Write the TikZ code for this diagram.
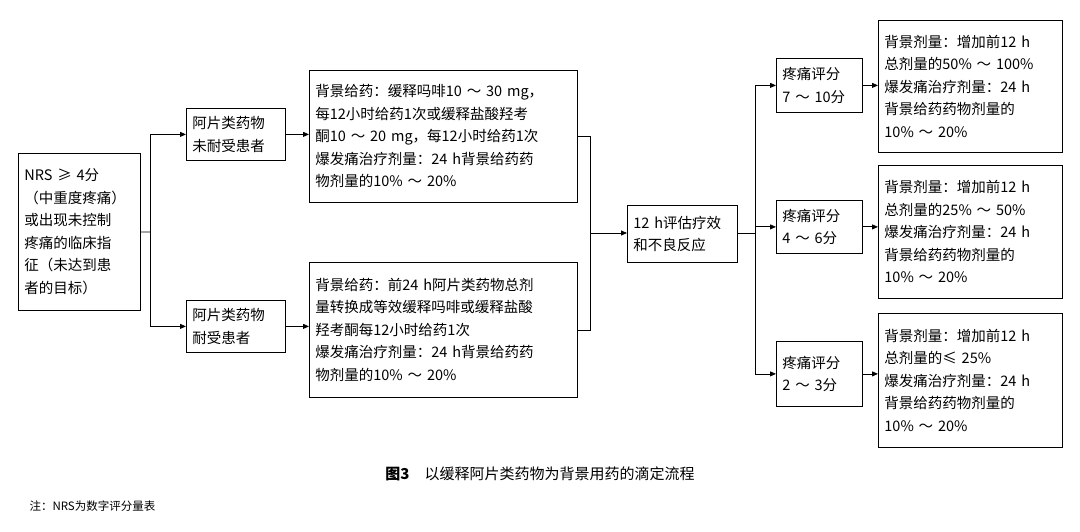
\documentclass[tikz,border=0pt]{standalone}
\usepackage{fontspec}
\setmainfont{Noto Sans CJK SC}
\usetikzlibrary{arrows.meta}
\begin{document}
\begin{tikzpicture}[x=1pt,y=-1pt,
  bx/.style={draw,line width=0.8pt,align=left,anchor=north west,inner xsep=6pt,inner ysep=3pt,font=\fontsize{14.5}{22.5}\selectfont},
  w/.style={text width=#1-12pt,minimum width=#1},
  ln/.style={line width=0.8pt},
  ar/.style={line width=0.8pt,-{Triangle[length=6pt,width=5pt]}}]
\useasboundingbox (0,0) rectangle (1080,532);
\node[bx,w=122pt,minimum height=157] (nrs) at (18,153) {NRS ≥ 4分\\（中重度疼痛）\\或出现未控制\\疼痛的临床指\\征（未达到患\\者的目标）};
\node[bx,w=99pt,minimum height=52] (a1) at (186,108) {阿片类药物\\未耐受患者};
\node[bx,w=99pt,minimum height=52] (a2) at (186,300) {阿片类药物\\耐受患者};
\node[bx,w=268pt,minimum height=132] (b1) at (309,70) {背景给药：缓释吗啡10 ～ 30 mg，\\每12小时给药1次或缓释盐酸羟考\\酮10 ～ 20 mg，每12小时给药1次\\爆发痛治疗剂量：24 h背景给药药\\物剂量的10\% ～ 20\%};
\node[bx,w=268pt,minimum height=135] (b2) at (309,262) {背景给药：前24 h阿片类药物总剂\\量转换成等效缓释吗啡或缓释盐酸\\羟考酮每12小时给药1次\\爆发痛治疗剂量：24 h背景给药药\\物剂量的10\% ～ 20\%};
\node[bx,w=110pt,minimum height=57] (e) at (627,205) {12 h评估疗效\\和不良反应};
\node[bx,w=86pt,minimum height=54] (p1) at (776,58) {疼痛评分\\7 ～ 10分};
\node[bx,w=86pt,minimum height=53] (p2) at (776,200) {疼痛评分\\4 ～ 6分};
\node[bx,w=86pt,minimum height=65] (p3) at (776,341) {疼痛评分\\2 ～ 3分};
\node[bx,w=184pt,minimum height=132] (r1) at (878,20) {背景剂量：增加前12 h\\总剂量的50\% ～ 100\%\\爆发痛治疗剂量：24 h\\背景给药药物剂量的\\10\% ～ 20\%};
\node[bx,w=184pt,minimum height=133] (r2) at (878,165) {背景剂量：增加前12 h\\总剂量的25\% ～ 50\%\\爆发痛治疗剂量：24 h\\背景给药药物剂量的\\10\% ～ 20\%};
\node[bx,w=184pt,minimum height=134] (r3) at (878,313) {背景剂量：增加前12 h\\总剂量的≤ 25\%\\爆发痛治疗剂量：24 h\\背景给药药物剂量的\\10\% ～ 20\%};
\coordinate (j1) at (150,232);
\draw[ln] (nrs.east) -- (j1);
\draw[ar] (j1) |- (a1.west);
\draw[ar] (j1) |- (a2.west);
\draw[ar] (a1) -- (a1.east -| b1.west);
\draw[ar] (a2) -- (a2.east -| b2.west);
\coordinate (j2) at (590,233);
\draw[ln] (b1.east) -| (j2);
\draw[ln] (b2.east) -| (j2);
\draw[ar] (j2) -- (e.west |- j2);
\coordinate (j3) at (755,233);
\draw[ln] (e.east |- j3) -- (j3);
\draw[ar] (j3) |- (p1.west);
\draw[ar] (j3) |- (p2.west);
\draw[ar] (j3) |- (p3.west);
\draw[ar] (p1.east) -- (p1.east -| r1.west);
\draw[ar] (p2.east) -- (p2.east -| r2.west);
\draw[ar] (p3.east) -- (p3.east -| r3.west);
\node[font=\fontsize{15}{17}\selectfont] (cap) at (540,474) {\textbf{图3}\quad 以缓释阿片类药物为背景用药的滴定流程};
\node[anchor=west,font=\fontsize{11.5}{13}\selectfont] (note) at (26,506) {注：NRS为数字评分量表};
\end{tikzpicture}
\end{document}
